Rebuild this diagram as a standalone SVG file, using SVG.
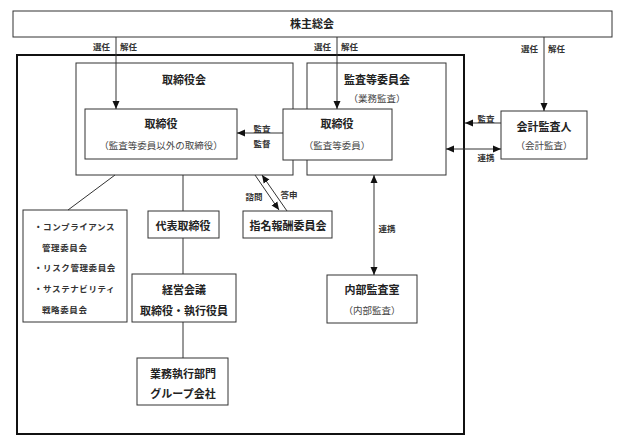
<svg xmlns="http://www.w3.org/2000/svg" width="620" height="446" viewBox="0 0 620 446">
<style>
.box{fill:#fff;stroke:#333;stroke-width:1}
.t{font-family:"Noto Sans CJK JP","Noto Sans",sans-serif;font-size:11px;font-weight:700;fill:#222;text-anchor:middle;dominant-baseline:central}
.p{font-family:"Noto Sans CJK JP","Noto Sans",sans-serif;font-size:9.5px;fill:#444;text-anchor:middle;dominant-baseline:central}
.l{font-family:"Noto Sans CJK JP","Noto Sans",sans-serif;font-size:8.5px;font-weight:700;fill:#333;dominant-baseline:central}
.s{font-family:"Noto Sans CJK JP","Noto Sans",sans-serif;font-size:8.5px;font-weight:700;fill:#333;dominant-baseline:central;letter-spacing:0.6px}
.c{stroke:#333;stroke-width:1;fill:none}
</style>
<defs>
<marker id="ah" markerUnits="userSpaceOnUse" markerWidth="8" markerHeight="8" refX="8" refY="4" orient="auto-start-reverse">
<path d="M0,0.5 L8,4 L0,7.5 z" fill="#111"/>
</marker>
</defs>
<rect width="620" height="446" fill="#fff"/>

<g id="shareholders">
<rect class="box" x="13" y="11" width="599" height="26"/>
<text class="t" x="312" y="23">株主総会</text>
</g>

<g id="outer">
<rect x="17" y="55" width="447" height="379" fill="none" stroke="#111" stroke-width="2"/>
</g>

<g id="board">
<rect class="box" x="76" y="63" width="217" height="112"/>
<text class="t" x="184" y="79">取締役会</text>
</g>

<g id="audit-committee">
<rect class="box" x="307" y="63" width="139" height="112"/>
<text class="t" x="377" y="79">監査等委員会</text>
<text class="p" x="377" y="98">（業務監査）</text>
</g>

<g id="directors">
<rect class="box" x="85" y="109" width="152" height="50"/>
<text class="t" x="161" y="123">取締役</text>
<text class="p" x="161" y="145">（監査等委員以外の取締役）</text>
</g>

<g id="audit-directors">
<rect class="box" x="283" y="109" width="109" height="51"/>
<text class="t" x="337" y="123">取締役</text>
<text class="p" x="337" y="145">（監査等委員）</text>
</g>

<g id="accounting-auditor">
<rect class="box" x="501" y="111" width="86" height="48"/>
<text class="t" x="544" y="126">会計監査人</text>
<text class="p" x="544" y="145">（会計監査）</text>
</g>

<g id="committees">
<rect class="box" x="23" y="210" width="104" height="112"/>
<text class="s" x="34" y="226">・コンプライアンス</text>
<text class="s" x="42" y="247">管理委員会</text>
<text class="s" x="34" y="267">・リスク管理委員会</text>
<text class="s" x="34" y="288">・サステナビリティ</text>
<text class="s" x="42" y="309">戦略委員会</text>
</g>

<g id="representative">
<rect class="box" x="148" y="211" width="71" height="27"/>
<text class="t" x="183" y="225">代表取締役</text>
</g>

<g id="nomination">
<rect class="box" x="243" y="211" width="89" height="27"/>
<text class="t" x="288" y="225">指名報酬委員会</text>
</g>

<g id="management">
<rect class="box" x="132" y="274" width="104" height="48"/>
<text class="t" x="184" y="289">経営会議</text>
<text class="t" x="184" y="310">取締役・執行役員</text>
</g>

<g id="internal-audit">
<rect class="box" x="327" y="275" width="90" height="48"/>
<text class="t" x="372" y="289">内部監査室</text>
<text class="p" x="372" y="310">（内部監査）</text>
</g>

<g id="business">
<rect class="box" x="137" y="358" width="91" height="47"/>
<text class="t" x="183" y="373">業務執行部門</text>
<text class="t" x="183" y="393">グループ会社</text>
</g>

<g id="connectors">
<line class="c" x1="116" y1="37" x2="116" y2="109" marker-end="url(#ah)"/>
<line class="c" x1="337" y1="37" x2="337" y2="109" marker-end="url(#ah)"/>
<line class="c" x1="544" y1="37" x2="544" y2="111" marker-end="url(#ah)"/>
<line class="c" x1="283" y1="133" x2="237" y2="133" marker-end="url(#ah)"/>
<line class="c" x1="501" y1="123" x2="465" y2="123" marker-end="url(#ah)"/>
<line class="c" x1="446" y1="149" x2="501" y2="149" marker-start="url(#ah)" marker-end="url(#ah)"/>
<line class="c" x1="115" y1="175" x2="68" y2="210"/>
<line class="c" x1="183" y1="175" x2="183" y2="211"/>
<line class="c" x1="183" y1="238" x2="183" y2="274"/>
<line class="c" x1="255" y1="175" x2="279" y2="210" marker-end="url(#ah)"/>
<line class="c" x1="287" y1="211" x2="262" y2="175" marker-end="url(#ah)"/>
<line class="c" x1="374" y1="175" x2="374" y2="275" marker-start="url(#ah)" marker-end="url(#ah)"/>
<line class="c" x1="183" y1="322" x2="183" y2="358"/>
</g>

<g id="labels">
<text class="l" x="110" y="46" text-anchor="end">選任</text>
<text class="l" x="120" y="46">解任</text>
<text class="l" x="331" y="46" text-anchor="end">選任</text>
<text class="l" x="341" y="46">解任</text>
<text class="l" x="538" y="48" text-anchor="end">選任</text>
<text class="l" x="548" y="48">解任</text>
<text class="l" x="262" y="128" text-anchor="middle">監査</text>
<text class="l" x="262" y="143" text-anchor="middle">監督</text>
<text class="l" x="486" y="118" text-anchor="middle">監査</text>
<text class="l" x="486" y="157" text-anchor="middle">連携</text>
<text class="l" x="254" y="196" text-anchor="middle">諮問</text>
<text class="l" x="289" y="194" text-anchor="middle">答申</text>
<text class="l" x="387" y="228" text-anchor="middle">連携</text>
</g>
</svg>
